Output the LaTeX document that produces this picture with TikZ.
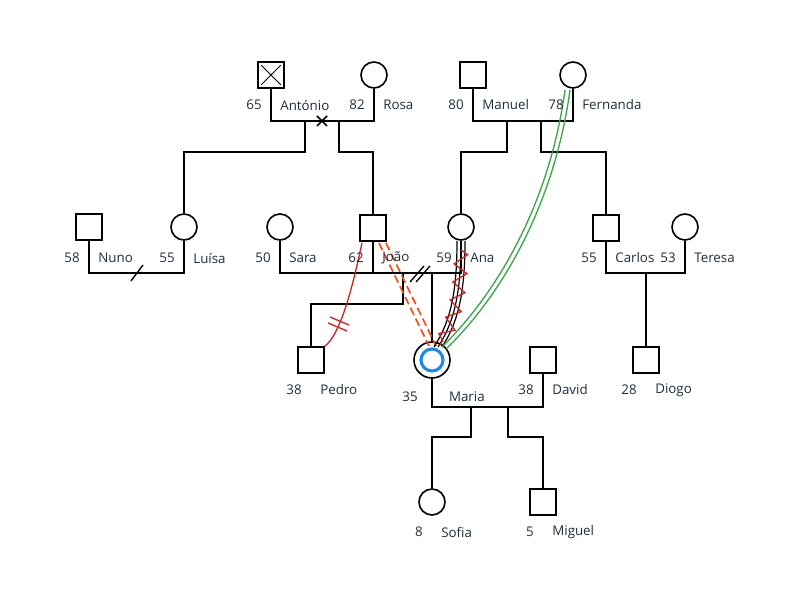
\documentclass[tikz,border=0pt]{standalone}
\usepackage{fontspec}
\setmainfont{Open Sans}
\usetikzlibrary{decorations.pathmorphing,calc}
\definecolor{txt}{HTML}{1F2D3D}
\definecolor{gr}{HTML}{3FA34D}
\definecolor{rd}{HTML}{C62828}
\definecolor{org}{HTML}{F4511E}
\definecolor{bl}{HTML}{1E88E5}
\begin{document}
\begin{tikzpicture}[x=0.75pt,y=-0.75pt,line width=1.5pt,
 m/.style={draw,line width=1.2pt,minimum size=19.5pt,inner sep=0,rectangle,fill=white},
 f/.style={draw,line width=1.2pt,minimum size=19.5pt,inner sep=0,circle,fill=white},
 lb/.style={text=txt,font=\fontsize{10}{12}\selectfont,inner sep=1pt}]
\useasboundingbox (0,0) rectangle (800,605);
% row 1
\node[m] (ant) at (271,75) {};
\draw[line width=0.6pt] ($(ant.north west)+(4,4)$) -- ($(ant.south east)+(-4,-4)$);
\draw[line width=0.6pt] ($(ant.south west)+(4,-4)$) -- ($(ant.north east)+(-4,4)$);
\node[f] (ros) at (374,75) {};
\node[m] (man) at (473,75) {};
\node[f] (fer) at (573,75) {};
% row 2
\node[m] (nun) at (89,227) {};
\node[f] (lui) at (184,227) {};
\node[f] (sar) at (280,227) {};
\node[m] (joa) at (373,228) {};
\node[f] (ana) at (461,227) {};
\node[m] (car) at (606,228) {};
\node[f] (ter) at (685,227) {};
% row 3
\node[m] (ped) at (311,360) {};
\node[circle,draw,line width=1.2pt,minimum size=27pt,inner sep=0,fill=white] (mar) at (432,360) {};
\draw[bl,line width=2.3pt] (mar) circle (11);
\node[m] (dav) at (543,360) {};
\node[m] (dio) at (646,360) {};
% row 4
\node[f] (sof) at (432,502) {};
\node[m] (mig) at (543,502) {};
% couple lines
\draw (ant.south) |- (271,121) -| (ros.south);
\draw[line width=1.2pt] (317,116) -- (327,126) (317,126) -- (327,116);
\draw (305,121) |- (184,152) -- (lui.north);
\draw (339,121) |- (373,152) -- (joa.north);
\draw (man.south) |- (473,121) -| (fer.south);
\draw (507,121) |- (461,152) -- (ana.north);
\draw (541,121) |- (606,152) -- (car.north);
\draw (nun.south) |- (89,273) -| (lui.south);
\draw[line width=1pt] (131,281) -- (143,265);
\draw (sar.south) |- (280,273) -- (461,273) -- (ana.south);
\draw (joa.south) -- (373,273);
\draw[line width=1pt] (410,282) -- (424,266) (416,282) -- (430,266);
\draw (403,273) |- (311,304) -- (ped.north);
\draw (432,273) -- (mar.north);
\draw (car.south) |- (606,273) -| (ter.south);
\draw (646,273) -- (dio.north);
\draw (mar.south) |- (432,407) -| (dav.south);
\draw (471,407) |- (432,437) -- (sof.north);
\draw (508,407) |- (543,437) -- (mig.north);
% relationship lines
\draw[rd,line width=1pt] (362,243) .. controls (352,290) and (340,335) .. (ped.north east);
\draw[rd,line width=1pt] (330,317) -- (349,325) (328,323) -- (347,331);
\draw[org,line width=1.3pt,dash pattern=on 6pt off 3pt] (379,243) -- (429,346) (386,243) -- (436,346);
\foreach \d in {-4,0,4}
 \draw[line width=0.9pt] (461+\d,241) .. controls (461+\d,300) and (452+\d,325) .. (438+\d,347);
\draw[rd,line width=1pt,decorate,decoration={zigzag,segment length=14,amplitude=5}] (461,250) .. controls (461,300) and (452,325) .. (440,345);
\draw[gr,line width=1pt] (565,90) .. controls (550,200) and (500,290) .. (442,347);
\draw[gr,line width=1pt] (570,90) .. controls (555,200) and (505,292) .. (446,349);
% labels
\foreach \a/\x/\y in {65/264/105,82/367/105,80/466/105,78/566/105,58/82/258,55/177/258,50/273/258,62/366/258,59/454/258,55/599/258,53/678/258,38/304/390,38/536/390,28/639/390,8/425/532,5/536/532}
 \node[lb,anchor=east] at (\x,\y) {\a};
\foreach \n/\x/\y in {António/278/105,Rosa/381/105,Manuel/480/105,Fernanda/580/105,Nuno/96/258,Luísa/191/258,Sara/287/258,João/380/258,Ana/468/258,Carlos/613/258,Teresa/692/258,Pedro/318/390,David/550/390,Diogo/653/390,Sofia/439/532,Miguel/550/532}
 \node[lb,anchor=west] at (\x,\y) {\n};
\node[lb,anchor=east] at (420,397) {35};
\node[lb,anchor=west,fill=white,inner xsep=3pt] at (444,397) {Maria};
\end{tikzpicture}
\end{document}
